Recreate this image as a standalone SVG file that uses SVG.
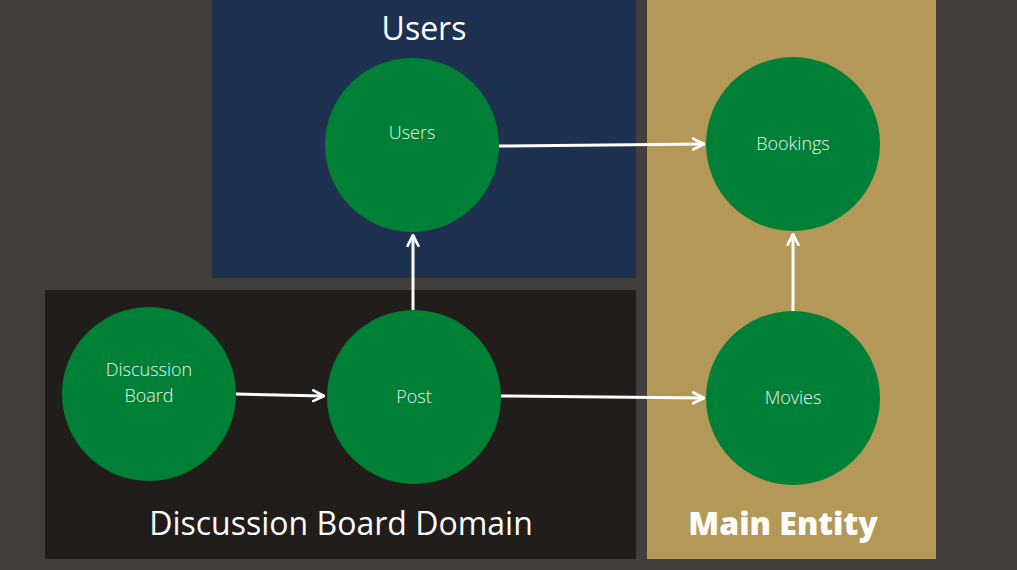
<svg xmlns="http://www.w3.org/2000/svg" width="1017" height="570" viewBox="0 0 1017 570">
<defs>
<marker id="arr" viewBox="0 0 10 10" refX="9" refY="5" markerWidth="4.5" markerHeight="4.5" orient="auto" markerUnits="strokeWidth">
<path d="M1,1 L9,5 L1,9" fill="none" stroke="#ffffff" stroke-width="2" stroke-linecap="round" stroke-linejoin="round"/>
</marker>
<style>
.node{fill:#008037}
.lbl{font-family:"Open Sans","Liberation Sans",sans-serif;font-size:18px;font-weight:300;fill:#ecf5ee;text-anchor:middle}
.title{font-family:"Open Sans","Liberation Sans",sans-serif;font-size:32px;fill:#ffffff;text-anchor:middle}
.edge{stroke:#ffffff;stroke-width:3;fill:none;marker-end:url(#arr)}
</style>
</defs>
<rect x="0" y="0" width="1017" height="570" fill="#423e39"/>
<g id="panel-users">
<rect x="212" y="0" width="424" height="278" fill="#1f3150"/>
<text class="title" x="424" y="40">Users</text>
</g>
<g id="panel-discussion">
<rect x="45" y="290" width="591" height="269" fill="#201d1a"/>
<text class="title" x="341" y="535">Discussion Board Domain</text>
</g>
<g id="panel-main">
<rect x="647" y="0" width="289" height="559" fill="#b49858"/>
<text class="title" x="783" y="535" font-weight="800" font-size="33">Main Entity</text>
</g>
<g id="connectors">
<path class="edge" d="M499,146 L704,144"/>
<path class="edge" d="M413,310 L413,235"/>
<path class="edge" d="M236,394 L324,396"/>
<path class="edge" d="M501,396 L704,398"/>
<path class="edge" d="M793,311 L793,234"/>
</g>
<g id="node-users">
<circle class="node" cx="412" cy="145" r="87"/>
<text class="lbl" x="412" y="139">Users</text>
</g>
<g id="node-discussion-board">
<circle class="node" cx="149" cy="394" r="87"/>
<text class="lbl" x="149" y="376">Discussion</text>
<text class="lbl" x="149" y="402">Board</text>
</g>
<g id="node-post">
<circle class="node" cx="414" cy="397" r="87"/>
<text class="lbl" x="414" y="403">Post</text>
</g>
<g id="node-bookings">
<circle class="node" cx="793" cy="144" r="87"/>
<text class="lbl" x="793" y="150">Bookings</text>
</g>
<g id="node-movies">
<circle class="node" cx="793" cy="398" r="87"/>
<text class="lbl" x="793" y="404">Movies</text>
</g>
</svg>
